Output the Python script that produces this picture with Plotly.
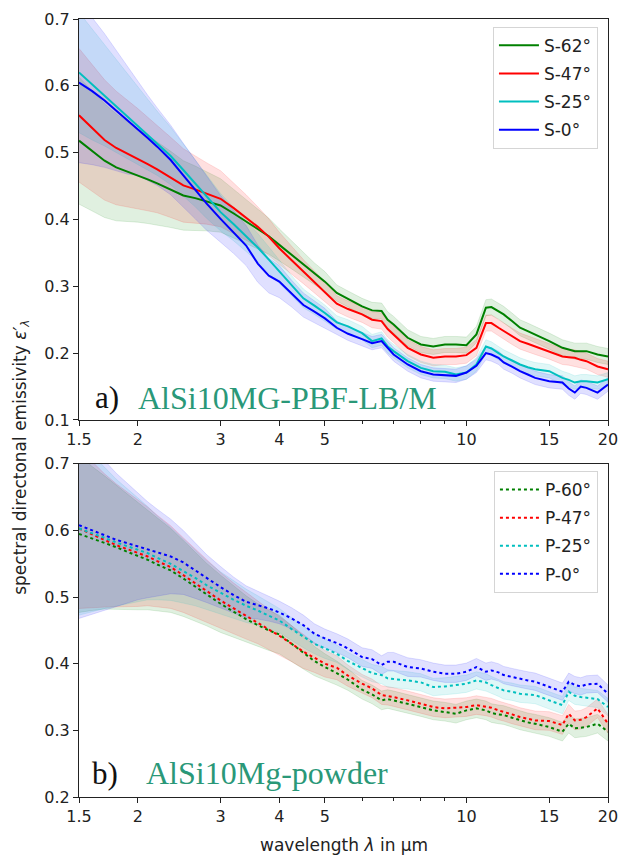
import numpy as np
import plotly.graph_objects as go

# ---------------- data ----------------
wavelength = [1.5, 1.6, 1.7, 1.8, 1.9, 2.0, 2.1, 2.2, 2.35, 2.5, 2.65, 2.8,
              3.0, 3.2, 3.4, 3.6, 3.8, 4.0, 4.25, 4.5, 4.75, 5.0, 5.3, 5.6,
              6.0, 6.3, 6.6, 6.8, 7.0, 7.5, 8.0, 8.5, 9.0, 9.5, 10.0, 10.5,
              11.0, 11.3, 11.7, 12.0, 12.5, 13.0, 13.5, 14.0, 15.0, 16.0, 16.5, 17.0,
              17.5, 18.0, 19.0, 20.0]

# panel a) solid specimens
s62 = [0.518, 0.503, 0.488, 0.478, 0.472, 0.466, 0.460, 0.454, 0.445, 0.436, 0.432, 0.427,
       0.421, 0.409, 0.397, 0.386, 0.375, 0.362, 0.347, 0.332, 0.319, 0.307, 0.290, 0.281,
       0.270, 0.264, 0.263, 0.250, 0.243, 0.223, 0.213, 0.210, 0.213, 0.213, 0.212, 0.228,
       0.268, 0.269, 0.263, 0.258, 0.248, 0.238, 0.233, 0.228, 0.218, 0.208, 0.205, 0.203,
       0.203, 0.203, 0.198, 0.195]
s47 = [0.556, 0.537, 0.519, 0.507, 0.499, 0.491, 0.483, 0.475, 0.463, 0.451, 0.445, 0.439,
       0.431, 0.417, 0.403, 0.389, 0.374, 0.357, 0.339, 0.322, 0.307, 0.292, 0.274, 0.266,
       0.258, 0.250, 0.248, 0.236, 0.228, 0.208, 0.198, 0.193, 0.195, 0.195, 0.197, 0.208,
       0.245, 0.245, 0.238, 0.233, 0.225, 0.218, 0.214, 0.210, 0.203, 0.195, 0.194, 0.193,
       0.190, 0.188, 0.180, 0.176]
s25 = [0.620, 0.602, 0.586, 0.570, 0.555, 0.541, 0.527, 0.514, 0.495, 0.474, 0.454, 0.434,
       0.411, 0.393, 0.375, 0.358, 0.340, 0.322, 0.301, 0.282, 0.271, 0.260, 0.246, 0.240,
       0.230, 0.218, 0.222, 0.210, 0.203, 0.188, 0.178, 0.173, 0.172, 0.168, 0.171, 0.183,
       0.210, 0.207, 0.200, 0.195, 0.189, 0.183, 0.179, 0.176, 0.173, 0.163, 0.160, 0.156,
       0.158, 0.158, 0.156, 0.161]
s0 = [0.605, 0.592, 0.578, 0.563, 0.548, 0.536, 0.522, 0.509, 0.489, 0.466, 0.445, 0.424,
      0.401, 0.381, 0.361, 0.334, 0.316, 0.307, 0.289, 0.272, 0.262, 0.252, 0.238, 0.229,
      0.221, 0.215, 0.218, 0.208, 0.198, 0.183, 0.173, 0.168, 0.167, 0.166, 0.171, 0.181,
      0.200, 0.198, 0.193, 0.186, 0.180, 0.173, 0.168, 0.163, 0.158, 0.156, 0.147, 0.141,
      0.150, 0.148, 0.141, 0.153]

s62_std = [0.095, 0.090, 0.085, 0.080, 0.075, 0.070, 0.066, 0.062, 0.057, 0.052, 0.048, 0.044,
           0.040, 0.036, 0.033, 0.030, 0.027, 0.024, 0.021, 0.018, 0.016, 0.015, 0.012, 0.012,
           0.012, 0.012, 0.012, 0.012, 0.012, 0.012, 0.012, 0.012, 0.012, 0.012, 0.012, 0.012,
           0.012, 0.012, 0.012, 0.012, 0.012, 0.012, 0.012, 0.012, 0.012, 0.012, 0.012, 0.012,
           0.012, 0.012, 0.012, 0.012]
s47_std = [0.100, 0.095, 0.090, 0.085, 0.080, 0.075, 0.070, 0.065, 0.060, 0.055, 0.050, 0.046,
           0.042, 0.038, 0.034, 0.030, 0.027, 0.024, 0.021, 0.018, 0.016, 0.015, 0.012, 0.012,
           0.012, 0.012, 0.012, 0.012, 0.012, 0.012, 0.012, 0.012, 0.012, 0.012, 0.012, 0.012,
           0.012, 0.012, 0.012, 0.012, 0.012, 0.012, 0.012, 0.012, 0.012, 0.012, 0.012, 0.012,
           0.012, 0.012, 0.012, 0.012]
s25_std = [0.090, 0.083, 0.076, 0.070, 0.064, 0.058, 0.053, 0.048, 0.043, 0.039, 0.035, 0.032,
           0.028, 0.025, 0.023, 0.021, 0.019, 0.017, 0.015, 0.014, 0.013, 0.012, 0.010, 0.010,
           0.010, 0.010, 0.010, 0.010, 0.010, 0.010, 0.010, 0.010, 0.010, 0.010, 0.010, 0.010,
           0.010, 0.010, 0.010, 0.010, 0.010, 0.010, 0.010, 0.010, 0.010, 0.010, 0.010, 0.010,
           0.010, 0.010, 0.010, 0.010]
s0_std = [0.120, 0.110, 0.100, 0.090, 0.080, 0.070, 0.064, 0.058, 0.052, 0.048, 0.044, 0.040,
          0.035, 0.032, 0.030, 0.028, 0.026, 0.024, 0.020, 0.018, 0.016, 0.015, 0.010, 0.010,
          0.010, 0.010, 0.010, 0.010, 0.010, 0.010, 0.010, 0.010, 0.010, 0.010, 0.010, 0.010,
          0.010, 0.010, 0.010, 0.010, 0.010, 0.010, 0.010, 0.010, 0.010, 0.010, 0.010, 0.010,
          0.010, 0.010, 0.010, 0.010]

# panel b) powder
p60 = [0.595, 0.588, 0.582, 0.575, 0.568, 0.562, 0.556, 0.549, 0.540, 0.528, 0.516, 0.504,
       0.490, 0.478, 0.467, 0.458, 0.450, 0.444, 0.430, 0.417, 0.404, 0.395, 0.386, 0.376,
       0.361, 0.354, 0.345, 0.347, 0.345, 0.340, 0.335, 0.330, 0.328, 0.325, 0.330, 0.333,
       0.330, 0.326, 0.324, 0.323, 0.319, 0.315, 0.312, 0.310, 0.305, 0.298, 0.310, 0.303,
       0.304, 0.305, 0.310, 0.298]
p47 = [0.603, 0.594, 0.585, 0.578, 0.572, 0.566, 0.561, 0.554, 0.545, 0.533, 0.521, 0.509,
       0.495, 0.483, 0.472, 0.462, 0.452, 0.442, 0.430, 0.418, 0.409, 0.400, 0.394, 0.382,
       0.370, 0.363, 0.353, 0.352, 0.350, 0.345, 0.340, 0.335, 0.333, 0.334, 0.335, 0.338,
       0.336, 0.334, 0.330, 0.328, 0.324, 0.320, 0.318, 0.315, 0.314, 0.308, 0.325, 0.315,
       0.316, 0.320, 0.333, 0.310]
p25 = [0.603, 0.596, 0.589, 0.582, 0.576, 0.571, 0.566, 0.559, 0.550, 0.539, 0.529, 0.518,
       0.506, 0.496, 0.487, 0.480, 0.472, 0.465, 0.452, 0.440, 0.430, 0.423, 0.415, 0.404,
       0.393, 0.386, 0.383, 0.378, 0.377, 0.375, 0.372, 0.365, 0.366, 0.368, 0.370, 0.375,
       0.372, 0.368, 0.364, 0.360, 0.358, 0.355, 0.354, 0.353, 0.345, 0.338, 0.358, 0.352,
       0.350, 0.349, 0.347, 0.335]
p0 = [0.608, 0.600, 0.593, 0.586, 0.581, 0.576, 0.571, 0.567, 0.561, 0.552, 0.540, 0.528,
      0.515, 0.503, 0.493, 0.488, 0.483, 0.477, 0.468, 0.458, 0.445, 0.438, 0.431, 0.423,
      0.410, 0.407, 0.398, 0.403, 0.403, 0.395, 0.393, 0.388, 0.385, 0.385, 0.388, 0.395,
      0.388, 0.390, 0.387, 0.383, 0.380, 0.378, 0.375, 0.373, 0.365, 0.358, 0.373, 0.368,
      0.366, 0.369, 0.370, 0.355]

p60_std = [0.118, 0.108, 0.100, 0.093, 0.087, 0.081, 0.075, 0.070, 0.063, 0.057, 0.052, 0.047,
           0.043, 0.039, 0.035, 0.032, 0.030, 0.029, 0.027, 0.025, 0.022, 0.020, 0.018, 0.016,
           0.014, 0.014, 0.014, 0.014, 0.014, 0.014, 0.014, 0.014, 0.014, 0.014, 0.014, 0.014,
           0.014, 0.014, 0.014, 0.014, 0.014, 0.014, 0.014, 0.014, 0.014, 0.014, 0.014, 0.014,
           0.014, 0.014, 0.014, 0.014]
p47_std = [0.120, 0.110, 0.100, 0.092, 0.086, 0.080, 0.074, 0.069, 0.062, 0.056, 0.051, 0.047,
           0.042, 0.038, 0.035, 0.032, 0.030, 0.029, 0.027, 0.025, 0.022, 0.020, 0.018, 0.016,
           0.014, 0.014, 0.014, 0.014, 0.014, 0.014, 0.014, 0.014, 0.014, 0.014, 0.014, 0.014,
           0.014, 0.014, 0.014, 0.014, 0.014, 0.014, 0.014, 0.014, 0.014, 0.014, 0.014, 0.014,
           0.014, 0.014, 0.014, 0.014]
p25_std = [0.130, 0.118, 0.106, 0.095, 0.086, 0.078, 0.070, 0.063, 0.055, 0.048, 0.042, 0.037,
           0.032, 0.028, 0.025, 0.022, 0.020, 0.018, 0.017, 0.016, 0.015, 0.015, 0.013, 0.013,
           0.013, 0.013, 0.013, 0.013, 0.013, 0.013, 0.013, 0.013, 0.013, 0.013, 0.013, 0.013,
           0.013, 0.013, 0.013, 0.013, 0.013, 0.013, 0.013, 0.013, 0.013, 0.013, 0.013, 0.013,
           0.013, 0.013, 0.013, 0.013]
p0_std = [0.140, 0.125, 0.112, 0.100, 0.090, 0.080, 0.072, 0.065, 0.056, 0.048, 0.042, 0.036,
          0.031, 0.027, 0.024, 0.021, 0.019, 0.017, 0.016, 0.015, 0.015, 0.014, 0.014, 0.014,
          0.014, 0.014, 0.014, 0.014, 0.014, 0.014, 0.013, 0.013, 0.013, 0.013, 0.013, 0.013,
          0.013, 0.013, 0.013, 0.013, 0.013, 0.013, 0.013, 0.013, 0.013, 0.013, 0.013, 0.013,
          0.013, 0.013, 0.013, 0.013]

top_names = ["S-62°", "S-47°", "S-25°", "S-0°"]
bottom_names = ["P-60°", "P-47°", "P-25°", "P-0°"]
tick_vals = [1.5, 2, 3, 4, 5, 10, 15, 20]
tick_text = ["1.5", "2", "3", "4", "5", "10", "15", "20"]
minor_vals = [6, 7, 8, 9]

line_colors = ["#008000", "#ff0000", "#00bfbf", "#0000ff"]
rgb = [(0, 128, 0), (255, 0, 0), (0, 191, 191), (0, 0, 255)]

# ---------------- figure ----------------
fig = go.Figure()
x = np.array(wavelength)


def add_band(mean, std, c, xa, ya, alpha, group):
    m = np.array(mean)
    s = np.array(std)
    fig.add_trace(go.Scatter(
        x=np.concatenate([x, x[::-1]]),
        y=np.concatenate([m + s, (m - s)[::-1]]),
        fill="toself",
        fillcolor=f"rgba({c[0]},{c[1]},{c[2]},{alpha})",
        line=dict(color=f"rgba({c[0]},{c[1]},{c[2]},{alpha})", width=1),
        hoverinfo="skip", showlegend=False, legendgroup=group,
        xaxis=xa, yaxis=ya))


top_means = [s62, s47, s25, s0]
top_stds = [s62_std, s47_std, s25_std, s0_std]
bot_means = [p60, p47, p25, p0]
bot_stds = [p60_std, p47_std, p25_std, p0_std]

for i in range(4):
    add_band(top_means[i], top_stds[i], rgb[i], "x", "y", 0.12, top_names[i])
for i in range(4):
    fig.add_trace(go.Scatter(
        x=wavelength, y=top_means[i], mode="lines", name=top_names[i],
        line=dict(color=line_colors[i], width=2),
        legend="legend", legendgroup=top_names[i], xaxis="x", yaxis="y"))

for i in range(4):
    add_band(bot_means[i], bot_stds[i], rgb[i], "x2", "y2", 0.12, bottom_names[i])
for i in range(4):
    fig.add_trace(go.Scatter(
        x=wavelength, y=bot_means[i], mode="lines", name=bottom_names[i],
        line=dict(color=line_colors[i], width=2, dash="dot"),
        legend="legend2", legendgroup=bottom_names[i], xaxis="x2", yaxis="y2"))

tick_font = dict(family="DejaVu Sans", size=16, color="#222222")
axis_common = dict(showline=True, linecolor="#222222", linewidth=1, mirror=True,
                   ticks="outside", ticklen=5, tickwidth=1, tickcolor="#222222",
                   showgrid=False, zeroline=False, tickfont=tick_font)
xaxis_common = dict(type="log", range=[np.log10(1.5), np.log10(20)],
                    tickmode="array", tickvals=tick_vals, ticktext=tick_text,
                    minor=dict(tickmode="array", tickvals=minor_vals, ticks="outside",
                               ticklen=3, tickwidth=1, tickcolor="#222222", showgrid=False),
                    **axis_common)

legend_common = dict(xanchor="right", x=0.981, yanchor="top",
                     bgcolor="rgba(255,255,255,0.85)", bordercolor="#d5d5d5", borderwidth=1,
                     font=dict(family="DejaVu Sans", size=17, color="#222222"),
                     traceorder="grouped", tracegroupgap=3, itemwidth=40)

fig.update_layout(
    width=628, height=858,
    margin=dict(l=79, r=10, t=17, b=61),
    paper_bgcolor="white", plot_bgcolor="white",
    xaxis=dict(domain=[0, 1], anchor="y", **xaxis_common),
    yaxis=dict(domain=[0.4846, 1], anchor="x", range=[0.1, 0.7], dtick=0.1,
               tickformat=".1f", **axis_common),
    xaxis2=dict(domain=[0, 1], anchor="y2", **xaxis_common),
    yaxis2=dict(domain=[0, 0.4282], anchor="x2", range=[0.2, 0.7], dtick=0.1,
                tickformat=".1f", **axis_common),
    legend=dict(y=0.99, **legend_common),
    legend2=dict(y=0.419, **legend_common),
    showlegend=True,
)

serif = "Liberation Serif, Times New Roman, serif"
teal = "#2a9878"
annotations = [
    dict(text="a)", xref="x domain", yref="y domain", x=0.026, y=0.055,
         xanchor="left", yanchor="middle", showarrow=False,
         font=dict(family=serif, size=31, color="#111111")),
    dict(text="AlSi10MG-PBF-LB/M", xref="x domain", yref="y domain", x=0.107, y=0.055,
         xanchor="left", yanchor="middle", showarrow=False,
         font=dict(family=serif, size=32, color=teal)),
    dict(text="b)", xref="x2 domain", yref="y2 domain", x=0.02, y=0.072,
         xanchor="left", yanchor="middle", showarrow=False,
         font=dict(family=serif, size=31, color="#111111")),
    dict(text="AlSi10Mg-powder", xref="x2 domain", yref="y2 domain", x=0.122, y=0.072,
         xanchor="left", yanchor="middle", showarrow=False,
         font=dict(family=serif, size=32, color=teal)),
    dict(text="spectral directonal emissivity <i>ε′<sub>λ</sub></i>", xref="paper", yref="paper",
         x=-0.11, y=0.437, textangle=-90, xanchor="center", yanchor="middle",
         showarrow=False, font=dict(family="DejaVu Sans", size=17, color="#222222")),
    dict(text="wavelength <i>λ</i> in µm", xref="paper", yref="paper",
         x=0.5, y=-0.0615, xanchor="center", yanchor="middle",
         showarrow=False, font=dict(family="DejaVu Sans", size=17, color="#222222")),
]
fig.update_layout(annotations=annotations)

fig.write_html("out.html", config={"displayModeBar": False},
               post_script="document.body.style.margin='0px';")
